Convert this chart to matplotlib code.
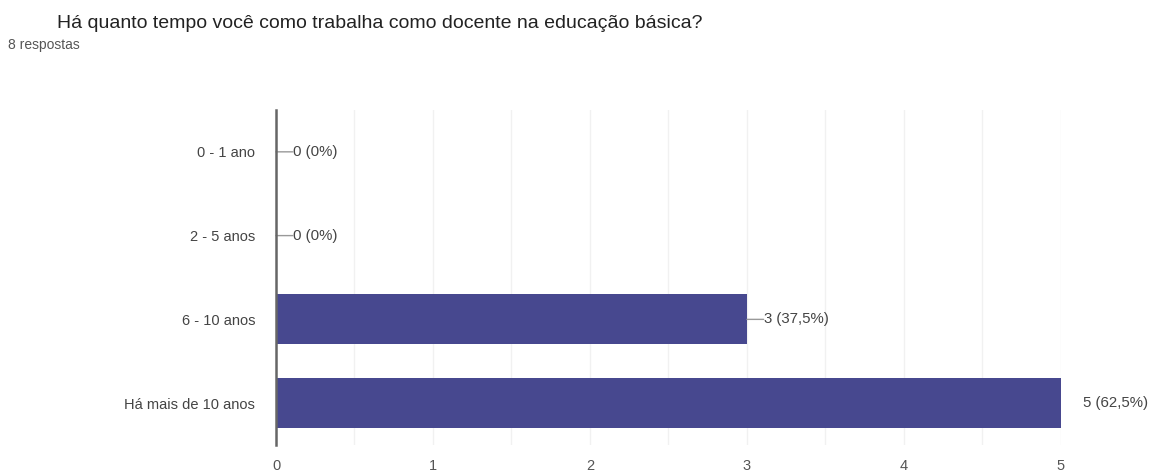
import matplotlib.pyplot as plt
from matplotlib.ticker import MultipleLocator

categorias = ["0 - 1 ano", "2 - 5 anos", "6 - 10 anos", "Há mais de 10 anos"]
respostas = [0, 0, 3, 5]
percentuais = ["0%", "0%", "37,5%", "62,5%"]
total = 8

plt.rcParams['font.family'] = ['Liberation Sans', 'DejaVu Sans']

fig = plt.figure(figsize=(11.7, 4.76), dpi=100)
ax = fig.add_axes([0.2359, 0.0651, 0.6709, 0.7039])

pos = list(range(len(categorias)))
ax.barh(pos, respostas, height=0.6, color="#47488f", zorder=3)

ax.set_ylim(len(categorias) - 0.5, -0.5)
ax.set_xlim(0, 5)
ax.set_yticks(pos)
ax.set_yticklabels(categorias, fontsize=10.5, color="#444444")
ax.xaxis.set_major_locator(MultipleLocator(1))
ax.xaxis.set_minor_locator(MultipleLocator(0.5))
ax.tick_params(axis="x", which="both", length=0, labelsize=10.5,
               labelcolor="#555555", pad=10)
ax.tick_params(axis="y", length=0, pad=15)
ax.grid(axis="x", which="both", color="#f1f1f1", lw=1, zorder=0)

for s in ["top", "right", "bottom"]:
    ax.spines[s].set_visible(False)
ax.spines["left"].set_color("#666666")
ax.spines["left"].set_linewidth(1.8)
ax.spines["left"].set_zorder(4)

# rótulos de valor com pequeno traço de ligação
for i, (v, p) in enumerate(zip(respostas, percentuais)):
    texto = f"{v} ({p})"
    if v == max(respostas):
        ax.annotate(texto, (v, i), xytext=(16, 0), textcoords="offset points",
                    va="center", ha="left", fontsize=10.8, color="#444444",
                    annotation_clip=False)
    else:
        ax.annotate("", (v, i), xytext=(12, 0), textcoords="offset points",
                    arrowprops=dict(arrowstyle="-", color="#999999", lw=1,
                                    shrinkA=0, shrinkB=0))
        ax.annotate(texto, (v, i), xytext=(12.5, 0), textcoords="offset points",
                    va="center", ha="left", fontsize=10.8, color="#444444")

fig.text(0.0487, 0.951, "Há quanto tempo você como trabalha como docente na educação básica?",
         fontsize=14, color="#222222", va="center")
fig.text(0.0068, 0.905, f"{total} respostas", fontsize=10, color="#555555", va="center")

fig.savefig("out.png", dpi=100)
